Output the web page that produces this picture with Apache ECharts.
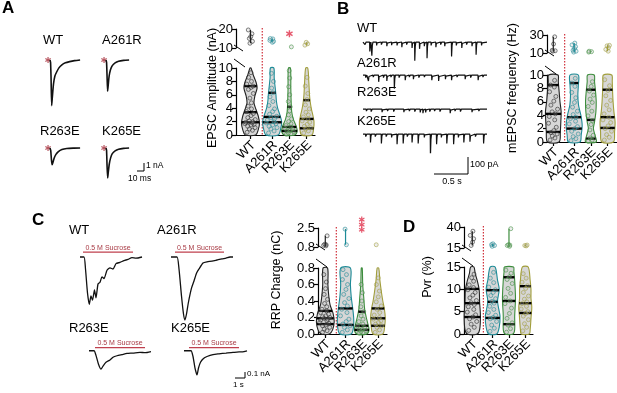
<!DOCTYPE html>
<html>
<head>
<meta charset="utf-8">
<script src="https://cdn.jsdelivr.net/npm/echarts@6/dist/echarts.min.js"></script>
<style>
html, body { margin: 0; padding: 0; background: #fff; }
#main { width: 617px; height: 393px; }
</style>
</head>
<body>
<div id="main"></div>
<script>
var groups = ['WT', 'A261R', 'R263E', 'K265E'];
var groupColors = ['#222222', '#1d8b97', '#3d8d3d', '#a19e3b'];
var xPos = [0, 1.25, 2.25, 3.25];

// A: evoked EPSC example traces [ms, nA]
var epscWT = [[0,0],[0.8,-0.3],[1.5,-2.2],[2.4,-5.7],[3.4,-4.6],[5,-3.0],[7,-2.0],[9.5,-1.5],[13,-0.95],[17,-0.6],[22,-0.35],[28,-0.2],[35,-0.08],[43,0]];
var epscA261R = [[0,0],[0.8,-0.3],[1.5,-2],[2.3,-3.9],[3.2,-3.1],[4.5,-2.0],[6.5,-1.2],[9,-0.7],[13,-0.35],[18,-0.15],[25,-0.05],[33,0]];
var epscR263E = [[0,0],[1,-0.3],[2,-1.4],[3,-2.1],[4.2,-1.8],[6,-1.25],[8.5,-0.8],[12,-0.45],[17,-0.2],[24,-0.07],[33,-0.02],[43,0]];
var epscK265E = [[0,0],[0.8,-0.3],[1.5,-2.2],[2.4,-3.75],[3.3,-3.0],[4.7,-2.0],[6.7,-1.2],[9,-0.7],[13,-0.35],[18,-0.15],[25,-0.05],[33,0]];

// A: EPSC amplitude (nA), one list per group
var ampValues = [
  [0.4,0.7,0.9,1.1,1.3,1.5,1.6,1.7,1.8,1.9,2.0,2.1,2.3,2.6,2.9,3.2,3.5,3.9,4.3,4.8,5.5,6.2,6.8,7.1,7.3,7.6,8.0,8.6,9.3,12.5,13.5,15,16,17.5,19.5],
  [0.3,0.6,0.9,1.1,1.3,1.5,1.7,1.8,2.0,2.2,2.4,2.6,2.8,3.1,3.5,3.9,4.4,5.0,5.7,6.3,7.0,8.0,9.2,13,13.5,14,14.8,15],
  [0.1,0.2,0.3,0.5,0.6,0.7,0.9,1.0,1.2,1.4,1.7,2.0,2.4,3.0,3.6,4.2,5.0,6.0,7.2,8.5,9.6,10.6],
  [0.3,0.6,0.9,1.1,1.3,1.6,1.9,2.1,2.4,2.7,3.0,3.4,3.9,4.5,5.3,6.2,7.3,8.6,11.5,12.2,13]
];
// violin outlines: [value, half width]
var ampShapes = [
  [[0,0.3],[0.8,0.45],[1.8,0.52],[2.8,0.45],[3.8,0.32],[4.8,0.2],[5.8,0.25],[7,0.38],[7.8,0.33],[8.8,0.18],[10,0.03]],
  [[0,0.35],[1,0.5],[2,0.55],[3,0.45],[4,0.32],[5,0.25],[6,0.22],[7,0.18],[8.5,0.12],[10,0.1]],
  [[0,0.3],[0.6,0.45],[1.4,0.38],[2.4,0.22],[3.5,0.13],[5,0.1],[7,0.08],[10,0.06]],
  [[0,0.3],[1,0.4],[2,0.42],[3,0.35],[4,0.26],[5,0.2],[6,0.16],[8,0.12],[10,0.06]]
];
var ampQuartiles = [[1.9,3.4,7.3],[1.9,2.7,6.3],[0.6,1.2,4.2],[1.0,2.4,5.2]];

// B: mEPSC events [s, pA]
var minisWT = [[0.03,15],[0.1,55],[0.13,80],[0.2,20],[0.27,15],[0.35,25],[0.42,18],[0.5,20],[0.57,30],[0.64,15],[0.72,35],[0.76,110],[0.83,40],[0.9,25],[0.94,95],[1.0,20],[1.07,30],[1.14,15],[1.2,25],[1.3,85],[1.37,20],[1.45,35],[1.52,15],[1.6,25],[1.66,75],[1.74,20]];
var minisA261R = [[0.04,15],[0.08,35],[0.15,12],[0.23,40],[0.3,15],[0.35,35],[0.41,12],[0.46,80],[0.53,15],[0.62,30],[0.68,12],[0.74,25],[0.82,15],[0.9,12],[1.01,30],[1.11,35],[1.21,25],[1.3,30],[1.38,12],[1.5,25],[1.58,15],[1.69,30],[1.76,12]];
var minisR263E = [[0.05,12],[0.12,15],[0.2,10],[0.28,18],[0.36,12],[0.45,15],[0.52,10],[0.6,18],[0.68,12],[0.76,15],[0.84,20],[0.88,25],[0.92,20],[0.98,15],[1.05,12],[1.13,15],[1.2,10],[1.28,25],[1.35,12],[1.43,15],[1.52,10],[1.6,18],[1.7,12],[1.77,10]];
var minisK265E = [[0.04,15],[0.11,50],[0.18,15],[0.27,55],[0.34,15],[0.42,20],[0.5,60],[0.59,55],[0.65,15],[0.72,50],[0.81,55],[0.9,20],[0.99,130],[1.08,60],[1.15,20],[1.23,55],[1.33,60],[1.4,20],[1.48,50],[1.57,45],[1.65,15],[1.77,55]];

// B: mEPSC frequency (Hz)
var freqValues = [
  [0.3,0.6,0.9,1.2,1.4,1.7,2.2,2.8,3.3,3.8,4.2,4.5,4.9,5.5,6.1,6.8,7.5,8.2,8.5,9.2,12,12.5,13,20,28],
  [0.2,0.5,0.8,1.2,1.6,2.0,2.3,2.7,3.1,3.5,3.7,4.1,4.6,5.2,5.9,6.6,7.4,8.3,8.8,9.5,11,12,13,15,17,19,21],
  [0.1,0.3,0.6,1.0,1.8,2.6,3.2,3.9,4.6,5.3,5.9,6.4,7.0,7.6,8.3,9.0,11,11.5,12],
  [0.3,0.7,1.1,1.6,2.0,2.4,2.9,3.3,3.7,4.2,4.8,5.5,6.2,6.9,7.7,8.4,9.3,12,14,16,18,18.5]
];
var freqShapes = [
  [[0,0.35],[1.5,0.42],[3,0.45],[4.5,0.47],[6,0.4],[7.5,0.35],[9,0.3],[10,0.28]],
  [[0,0.35],[1,0.42],[2.5,0.48],[4,0.4],[5.5,0.26],[7,0.22],[8.5,0.25],[10,0.25]],
  [[0,0.32],[1,0.25],[2,0.15],[3,0.22],[4.5,0.3],[6,0.32],[7.5,0.28],[9,0.22],[10,0.2]],
  [[0,0.35],[1.5,0.42],[3,0.45],[4.5,0.38],[6,0.33],[7.5,0.3],[9,0.28],[10,0.25]]
];
var freqQuartiles = [[1.5,4.2,8.5],[2.0,3.7,8.8],[0.5,3.3,7.8],[2.1,3.7,7.8]];

// C: sucrose responses [s, nA] and sucrose application [start, end] in s
var rrpWT = [[0,0],[0.4,0],[0.55,-0.2],[0.75,-0.6],[0.93,-0.79],[1.1,-0.65],[1.25,-0.72],[1.45,-0.55],[1.6,-0.68],[1.8,-0.45],[2.0,-0.42],[2.2,-0.33],[2.4,-0.36],[2.7,-0.22],[3.0,-0.18],[3.3,-0.2],[3.6,-0.11],[4.0,-0.09],[4.4,-0.06],[4.8,-0.04],[5.2,-0.01],[5.6,-0.02],[6.2,0]];
var rrpA261R = [[0,0],[0.6,0],[0.8,-0.2],[1.05,-0.65],[1.25,-0.95],[1.4,-1.05],[1.55,-0.95],[1.75,-0.75],[2.05,-0.52],[2.3,-0.4],[2.55,-0.27],[2.8,-0.2],[3.2,-0.1],[3.6,-0.08],[4.1,-0.07],[4.6,-0.05],[5.1,-0.03],[5.5,-0.02],[5.9,0],[6.2,0]];
var rrpR263E = [[0,0],[0.5,0],[0.7,-0.12],[0.95,-0.35],[1.2,-0.48],[1.4,-0.4],[1.7,-0.3],[2.1,-0.24],[2.4,-0.17],[2.8,-0.13],[3.3,-0.1],[3.8,-0.07],[4.4,-0.06],[5.1,-0.04],[5.6,-0.05],[6.2,-0.02]];
var rrpK265E = [[0,0],[0.7,0],[0.9,-0.15],[1.1,-0.45],[1.3,-0.63],[1.45,-0.45],[1.65,-0.3],[1.95,-0.2],[2.3,-0.15],[2.9,-0.1],[3.5,-0.08],[4.2,-0.06],[4.9,-0.04],[5.5,-0.03],[6.0,-0.02],[6.3,0]];
var sucroseOn = [[0.3,5.3],[0.4,5.3],[0.6,5.6],[0.5,5.5]];

// C: RRP charge (nC)
var chargeValues = [
  [0.02,0.04,0.06,0.08,0.1,0.11,0.13,0.14,0.16,0.17,0.18,0.19,0.2,0.21,0.22,0.24,0.26,0.28,0.3,0.33,0.37,0.42,0.48,0.55,0.63,0.72,0.9,0.95,1.0,1.05,1.8],
  [0.02,0.05,0.08,0.1,0.12,0.15,0.18,0.22,0.26,0.3,0.34,0.38,0.43,0.48,0.54,0.6,0.66,0.72,0.78,1.0,2.4],
  [0.01,0.02,0.03,0.04,0.05,0.06,0.08,0.1,0.12,0.15,0.18,0.22,0.27,0.33,0.4,0.5,0.6],
  [0.02,0.05,0.08,0.1,0.12,0.14,0.16,0.18,0.2,0.23,0.26,0.3,0.34,0.39,0.45,0.52,0.6,0.68,1.0]
];
var chargeShapes = [
  [[0,0.25],[0.05,0.45],[0.15,0.55],[0.25,0.48],[0.35,0.3],[0.45,0.22],[0.6,0.16],[0.8,0.14]],
  [[0,0.35],[0.1,0.5],[0.2,0.5],[0.3,0.45],[0.45,0.35],[0.6,0.3],[0.8,0.3]],
  [[0,0.3],[0.05,0.45],[0.12,0.38],[0.2,0.28],[0.3,0.18],[0.45,0.12],[0.6,0.06],[0.8,0.03]],
  [[0,0.3],[0.1,0.42],[0.2,0.45],[0.3,0.4],[0.4,0.3],[0.5,0.22],[0.65,0.12],[0.8,0.05]]
];
var chargeQuartiles = [[0.12,0.19,0.28],[0.11,0.31],[0.05,0.1,0.27],[0.1,0.19,0.31]];

// D: Pvr (%)
var pvrValues = [
  [0.8,1.5,2.2,2.8,3.4,3.8,4.3,4.9,5.5,6.1,6.6,7.0,7.5,8.1,8.7,9.3,9.9,10.4,11.0,11.8,12.6,13.4,18,22,26,30,35],
  [0.6,1.3,2.0,2.8,3.4,3.7,4.2,4.8,5.5,6.2,6.9,7.3,7.9,8.6,9.3,9.9,10.5,11.5,12.5,13.8,17,18,19,20],
  [0.4,1.2,2.0,2.5,3.5,4.6,5.8,6.8,7.4,8.2,9.1,10.2,11.3,12.2,12.8,13.6,14.3,17,18,18.5,19,38],
  [0.7,1.5,2.3,3.2,4.0,4.6,5.0,5.6,6.2,6.8,7.2,7.8,8.5,9.3,10.2,10.8,11.6,12.5,13.5,17.5,18,18.5]
];
var pvrShapes = [
  [[0,0.3],[1,0.45],[4,0.5],[7,0.45],[10,0.42],[12,0.3],[13.5,0.18],[15,0.1]],
  [[0,0.25],[1.5,0.4],[4,0.45],[6,0.35],[7.5,0.3],[10,0.4],[12,0.3],[15,0.15]],
  [[0,0.25],[1,0.35],[4,0.35],[8,0.4],[12,0.35],[14,0.3],[15,0.28]],
  [[0,0.25],[1,0.3],[4,0.36],[6,0.4],[8,0.35],[10,0.35],[12,0.3],[15,0.18]]
];
var pvrQuartiles = [[3.8,6.9,10.1],[3.6,7.2,9.8],[2.2,7.4,12.7],[4.7,6.9,10.7]];

var FONT = 'Liberation Sans, Arial, Helvetica, sans-serif';
var STAR = 'path://M4,0h2v3.3l2.9-1.7 1,1.7-2.9,1.7 2.9,1.7-1,1.7-2.9-1.7V10H4V6.7L1.1,8.4 0.1,6.7 3,5 0.1,3.3 1.1,1.6 4,3.3z';
var jitter = [-0.7, 0.35, -0.2, 0.75, -0.45, 0.1, 0.55, -0.85, 0.25];

var grids = [], xAxes = [], yAxes = [], series = [], graphics = [];

function addText(str, x, y, size, opt) {
	opt = opt || {};
	graphics.push({
		type: 'text', x: x, y: y, rotation: opt.rotation || 0, silent: true,
		style: {
			text: str, fontSize: size, fontFamily: FONT, fontWeight: opt.bold ? 'bold' : 'normal',
			fill: opt.color || '#000', align: opt.align || 'left', verticalAlign: 'middle'
		}
	});
}

function addSeg(x1, y1, x2, y2, color, width, dash) {
	graphics.push({
		type: 'line', silent: true,
		shape: { x1: x1, y1: y1, x2: x2, y2: y2 },
		style: { stroke: color || '#000', lineWidth: width || 1, lineDash: dash || null }
	});
}

// a grid with hidden axes, used for the example traces
function addTraceGrid(left, top, width, height, xr, yr) {
	var gi = grids.length;
	grids.push({ left: left, top: top, width: width, height: height });
	xAxes.push({ gridIndex: gi, type: 'value', min: xr[0], max: xr[1], show: false });
	yAxes.push({ gridIndex: gi, type: 'value', min: yr[0], max: yr[1], show: false });
	return gi;
}

function addTrace(gi, data, width) {
	series.push({
		type: 'line', xAxisIndex: gi, yAxisIndex: gi, data: data, showSymbol: false,
		smooth: 0.2, silent: true, lineStyle: { color: '#111', width: width }
	});
}

function stimStar(gi, t) {
	series.push({
		type: 'scatter', xAxisIndex: gi, yAxisIndex: gi, data: [[t, 0]], symbol: STAR,
		symbolSize: 6, silent: true, itemStyle: { color: '#a8303c' }
	});
}

function buildSpikeTrace(events, end) {
	var pts = [[0, 0]];
	events.forEach(function(e) {
		pts.push([e[0] - 0.003, 0], [e[0], -e[1]], [e[0] + 0.007, -e[1] * 0.25], [e[0] + 0.016, 0]);
	});
	pts.push([end, 0]);
	return pts;
}

function halfWidth(prof, y) {
	if (y <= prof[0][0]) return prof[0][1];
	for (var k = 1; k < prof.length; k++) {
		if (y <= prof[k][0]) {
			var t = (y - prof[k - 1][0]) / (prof[k][0] - prof[k - 1][0]);
			return prof[k - 1][1] + t * (prof[k][1] - prof[k - 1][1]);
		}
	}
	return prof[prof.length - 1][1];
}

function valueAxis(gi, min, max, step, fmt) {
	return {
		gridIndex: gi, type: 'value', min: min, max: max, interval: step,
		axisLine: { show: true, onZero: false, lineStyle: { color: '#000', width: 1.2 } },
		axisTick: { show: true, length: 4, lineStyle: { color: '#000', width: 1.2 } },
		axisLabel: { show: true, fontSize: 13, fontFamily: FONT, color: '#000', margin: 3,
			showMinLabel: true, showMaxLabel: true, formatter: fmt },
		splitLine: { show: false }
	};
}

// split-axis violin plot (lower main part, upper part above the break)
function addViolinPanel(L, values, shapes, quartiles) {
	var width = L.right - L.axisX;
	var xMin = -(L.wtX - L.axisX) / L.unit;
	var xMax = xMin + width / L.unit;

	var lo = grids.length;
	grids.push({ left: L.axisX, top: L.lowTop, width: width, height: L.lowBottom - L.lowTop });
	xAxes.push({
		gridIndex: lo, type: 'value', min: xMin, max: xMax,
		axisLine: { show: true, onZero: false, lineStyle: { color: '#000', width: 1.2 } },
		axisTick: { show: true, customValues: xPos, length: 4, lineStyle: { color: '#000', width: 1.2 } },
		axisLabel: { show: false },
		splitLine: { show: false }
	});
	yAxes.push(valueAxis(lo, 0, L.lowMax, L.lowStep, L.fmt));

	var up = grids.length;
	grids.push({ left: L.axisX, top: L.upTop, width: width, height: L.upBottom - L.upTop });
	xAxes.push({ gridIndex: up, type: 'value', min: xMin, max: xMax, show: false });
	yAxes.push(valueAxis(up, L.lowMax, L.upMax, L.upMax - L.lowMax, L.fmt));

	// violin bodies
	series.push({
		type: 'custom', xAxisIndex: lo, yAxisIndex: lo, silent: true,
		data: groups.map(function(g, i) { return [xPos[i], 0]; }),
		renderItem: function(params, api) {
			var i = params.dataIndex, cx = xPos[i], prof = shapes[i];
			var right = prof.map(function(q) { return api.coord([cx + q[1], q[0]]); });
			var left = prof.slice().reverse().map(function(q) { return api.coord([cx - q[1], q[0]]); });
			return {
				type: 'polygon',
				shape: { points: right.concat(left), smooth: 0.3 },
				style: { fill: '#d7d7d7', stroke: groupColors[i], lineWidth: 1.1 }
			};
		}
	});

	// group names, rotated 45 degrees under each tick
	series.push({
		type: 'custom', xAxisIndex: lo, yAxisIndex: lo, silent: true, clip: false,
		data: groups.map(function(g, i) { return [xPos[i], 0]; }),
		renderItem: function(params, api) {
			var p = api.coord([api.value(0), 0]);
			return {
				type: 'text', x: p[0] + 3, y: p[1] + 8, rotation: Math.PI / 4,
				style: { text: groups[params.dataIndex], fontSize: 13, fontFamily: FONT, fill: '#000',
					align: 'right', verticalAlign: 'middle' }
			};
		}
	});

	// individual cells
	groups.forEach(function(g, i) {
		var low = [], high = [];
		values[i].forEach(function(v, k) {
			if (v <= L.lowMax) {
				low.push([xPos[i] + jitter[k % jitter.length] * halfWidth(shapes[i], v) * 0.75, v]);
			} else {
				high.push([xPos[i] + jitter[k % jitter.length] * 0.15, v]);
			}
		});
		var pointStyle = { color: 'rgba(190,190,190,0.35)', borderColor: groupColors[i], borderWidth: 0.7, opacity: 0.8 };
		series.push({
			type: 'scatter', xAxisIndex: lo, yAxisIndex: lo, data: low, symbol: 'circle',
			symbolSize: 4, silent: true, itemStyle: pointStyle
		});
		if (high.length) {
			var ys = high.map(function(p) { return p[1]; });
			series.push({
				type: 'line', xAxisIndex: up, yAxisIndex: up, showSymbol: false, silent: true,
				data: [[xPos[i], Math.min.apply(null, ys)], [xPos[i], Math.max.apply(null, ys)]],
				lineStyle: { color: groupColors[i], width: 1.2 }
			});
			series.push({
				type: 'scatter', xAxisIndex: up, yAxisIndex: up, data: high, symbol: 'circle',
				symbolSize: 4, silent: true, clip: false, itemStyle: pointStyle
			});
		}
	});

	// median and quartiles
	series.push({
		type: 'custom', xAxisIndex: lo, yAxisIndex: lo, silent: true,
		data: groups.map(function(g, i) { return [xPos[i], 0]; }),
		renderItem: function(params, api) {
			var i = params.dataIndex, cx = xPos[i];
			return {
				type: 'group',
				children: quartiles[i].map(function(q) {
					var hw = halfWidth(shapes[i], q);
					var a = api.coord([cx - hw, q]), b = api.coord([cx + hw, q]);
					return { type: 'line', shape: { x1: a[0], y1: a[1], x2: b[0], y2: b[1] },
						style: { stroke: '#000', lineWidth: 2.4 } };
				})
			};
		}
	});

	// dotted separator after WT and the axis break marks
	var sepX = L.wtX + 0.68 * L.unit;
	addSeg(sepX, L.upTop - 1, sepX, L.lowBottom, '#d0303a', 1.2, [1.5, 1.5]);
	addSeg(L.axisX - 2, L.upBottom - 3, L.axisX + 7, L.upBottom + 3, '#000', 1);
	addSeg(L.axisX - 2, L.lowTop - 9, L.axisX + 9, L.lowTop - 1, '#000', 1);
	return { lo: lo, up: up };
}

// ---------------- panel A ----------------
addText('A', 2, 8, 17, { bold: true });
var aX = [-4, 46], aY = [-6, 0.5];
var gA1 = addTraceGrid(47.2, 56, 35, 52, aX, aY);
var gA2 = addTraceGrid(103.2, 56, 35, 52, aX, aY);
var gA3 = addTraceGrid(47.2, 144, 35, 52, aX, aY);
var gA4 = addTraceGrid(103.2, 144, 35, 52, aX, aY);
addTrace(gA1, epscWT, 1.6);
addTrace(gA2, epscA261R, 1.6);
addTrace(gA3, epscR263E, 1.6);
addTrace(gA4, epscK265E, 1.6);
[gA1, gA2, gA3, gA4].forEach(function(g) { stimStar(g, -2.8); });
addText('WT', 43, 40, 13);
addText('A261R', 102, 40, 13);
addText('R263E', 40, 131, 13);
addText('K265E', 102, 131, 13);
addSeg(137, 171, 144, 171);
addSeg(144, 171, 144, 163);
addText('1 nA', 146, 166, 8.5);
addText('10 ms', 128, 178.5, 8.5);

var panelA = addViolinPanel({ axisX: 236, right: 315, lowTop: 68, lowBottom: 135, upTop: 29, upBottom: 48,
	unit: 17.3, wtX: 250.5, lowMax: 10, lowStep: 2, upMax: 20 }, ampValues, ampShapes, ampQuartiles);
addText('EPSC Amplitude (nA)', 213, 88, 12.5, { rotation: Math.PI / 2, align: 'center' });
series.push({
	type: 'scatter', xAxisIndex: panelA.up, yAxisIndex: panelA.up, data: [[xPos[2], 17.5]],
	symbol: STAR, symbolSize: 7, silent: true, clip: false, itemStyle: { color: '#e0304a' }
});

// ---------------- panel B ----------------
addText('B', 337, 9, 17, { bold: true });
var bX = [0, 1.82], bY = [-110, 12];
var gB1 = addTraceGrid(363, 40, 124, 20.7, bX, bY);
var gB2 = addTraceGrid(363, 73, 124, 20.7, bX, bY);
var gB3 = addTraceGrid(363, 107, 124, 20.7, bX, bY);
var gB4 = addTraceGrid(363, 132, 124, 20.7, bX, bY);
[[gB1, minisWT], [gB2, minisA261R], [gB3, minisR263E], [gB4, minisK265E]].forEach(function(t) {
	series.push({
		type: 'line', xAxisIndex: t[0], yAxisIndex: t[0], data: buildSpikeTrace(t[1], 1.82),
		showSymbol: false, silent: true, lineStyle: { color: '#111', width: 1.2 }
	});
});
addText('WT', 357, 28, 13);
addText('A261R', 357, 63, 13);
addText('R263E', 357, 92, 13);
addText('K265E', 357, 121, 13);
addSeg(468, 157, 468, 174);
addSeg(434, 174, 468, 174);
addText('100 pA', 470, 165, 9);
addText('0.5 s', 452, 182, 9, { align: 'center' });

addViolinPanel({ axisX: 547, right: 617, lowTop: 75, lowBottom: 142, upTop: 35, upBottom: 53,
	unit: 16.7, wtX: 553.3, lowMax: 10, lowStep: 2, upMax: 30 }, freqValues, freqShapes, freqQuartiles);
addText('mEPSC frequency (Hz)', 513, 88, 12.5, { rotation: Math.PI / 2, align: 'center' });

// ---------------- panel C ----------------
addText('C', 32, 220, 17, { bold: true });
var cX = [0, 7], cY = [-1.1, 0.15];
var gC = [addTraceGrid(80, 248, 70, 75, cX, cY), addTraceGrid(171, 248, 70, 75, cX, cY),
	addTraceGrid(89, 345, 70, 75, cX, cY), addTraceGrid(184, 345, 70, 75, cX, cY)];
[rrpWT, rrpA261R, rrpR263E, rrpK265E].forEach(function(d, i) {
	addTrace(gC[i], d, 1.3);
	var s = sucroseOn[i];
	series.push({
		type: 'line', xAxisIndex: gC[i], yAxisIndex: gC[i], silent: true, symbolSize: 0,
		data: [[s[0], 0.08], { value: [(s[0] + s[1]) / 2, 0.08], label: { show: true,
			formatter: '0.5 M Sucrose', position: 'top', distance: 1, fontSize: 7,
			fontFamily: FONT, color: '#a83a44' } }, [s[1], 0.08]],
		lineStyle: { color: '#c0404e', width: 1.3 }
	});
});
addText('WT', 69, 230, 13);
addText('A261R', 157, 230, 13);
addText('R263E', 69, 328, 13);
addText('K265E', 171, 328, 13);
addSeg(245, 372, 245, 378);
addSeg(235, 378, 245, 378);
addText('0.1 nA', 247, 374, 8);
addText('1 s', 233, 385, 8);

var panelC = addViolinPanel({ axisX: 318, right: 387, lowTop: 268, lowBottom: 334, upTop: 228, upBottom: 247,
	unit: 16.2, wtX: 325.3, lowMax: 0.8, lowStep: 0.2, upMax: 2.5,
	fmt: function(v) { return v.toFixed(1); } }, chargeValues, chargeShapes, chargeQuartiles);
addText('RRP Charge (nC)', 277, 280, 12.5, { rotation: Math.PI / 2, align: 'center' });
series.push({
	type: 'scatter', xAxisIndex: panelC.up, yAxisIndex: panelC.up, data: [[xPos[2], 2.35], [xPos[2], 2.8], [xPos[2], 3.25]],
	symbol: STAR, symbolSize: 6, silent: true, clip: false, itemStyle: { color: '#e0304a' }
});

// ---------------- panel D ----------------
addText('D', 403, 227, 17, { bold: true });
addViolinPanel({ axisX: 464, right: 533, lowTop: 267, lowBottom: 334, upTop: 227, upBottom: 248,
	unit: 16.3, wtX: 472.3, lowMax: 15, lowStep: 5, upMax: 40 }, pvrValues, pvrShapes, pvrQuartiles);
addText('Pvr (%)', 428, 277, 12.5, { rotation: Math.PI / 2, align: 'center' });

var chart = echarts.init(document.getElementById('main'), null, { renderer: 'canvas' });
chart.setOption({
	backgroundColor: '#fff',
	animation: false,
	grid: grids,
	xAxis: xAxes,
	yAxis: yAxes,
	series: series,
	graphic: { elements: graphics }
});
</script>
</body>
</html>
